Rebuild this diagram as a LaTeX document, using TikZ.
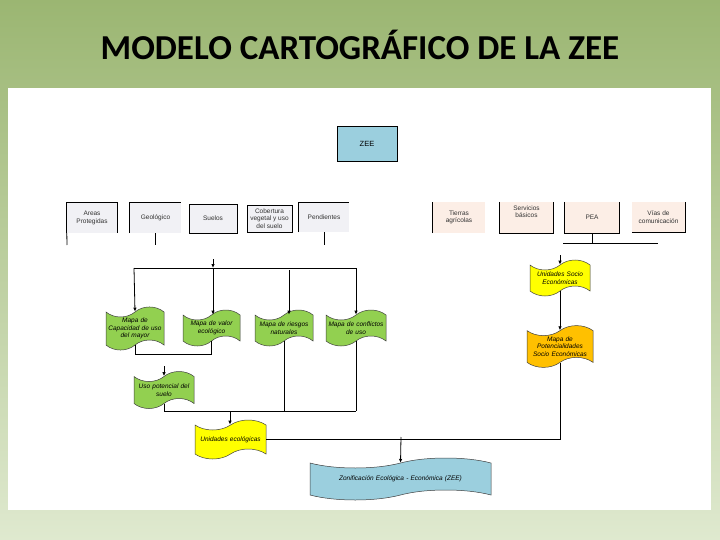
\documentclass[tikz,border=0pt]{standalone}
\usepackage{fontspec}
\setmainfont{Liberation Sans}
\newfontfamily\titlefont{Carlito}
\usetikzlibrary{shapes.symbols,arrows.meta}
\definecolor{bgtop}{HTML}{9BB672}
\definecolor{bgbot}{HTML}{DFE9CF}
\definecolor{zeeblue}{HTML}{9BCFDE}
\definecolor{mapgreen}{HTML}{92D050}
\definecolor{uyellow}{HTML}{FFFF00}
\definecolor{porange}{HTML}{FFC000}
\definecolor{boxgray}{HTML}{F1F1F5}
\definecolor{boxpeach}{HTML}{FCEEE6}
\tikzset{
  tapebox/.style={tape, draw=black!75, line width=0.5pt,
    tape bend top=in and out, tape bend bottom=in and out, tape bend height=10pt,
    font=\fontsize{6.5}{7.5}\selectfont\itshape, align=center, inner sep=1pt},
  srcbox/.style={rectangle, inner sep=1pt, align=center,
    font=\fontsize{6.5}{7.5}\selectfont, text=black!80},
  bord/.style={draw=black, line width=0.7pt},
  conn/.style={draw=black, line width=0.8pt},
  arr/.style={conn, -{Latex[length=4pt,width=3.5pt]}}
}
\begin{document}
\begin{tikzpicture}[x=1pt,y=-1pt]
\useasboundingbox (0,0) rectangle (720,540);
\shade[top color=bgtop, bottom color=bgbot] (0,0) rectangle (720,540);
\fill[white] (8,88) rectangle (711,510);
\node[anchor=base, font=\titlefont\bfseries\fontsize{35}{40}\selectfont] (title) at (360,60) {MODELO CARTOGRÁFICO DE LA ZEE};

% top
\node[draw, line width=0.8pt, fill=zeeblue, minimum width=60, minimum height=35,
      font=\fontsize{7.5}{9}\selectfont] (zee) at (367,143.5) {ZEE};

% left sources
\node[srcbox, fill=boxgray, minimum width=50, minimum height=30] (ap) at (92,218) {Areas\\Protegidas};
\draw[bord] (ap.south west) -- (ap.north west) -- (ap.north east) -- (ap.south east);
\node[srcbox, fill=boxgray, minimum width=51, minimum height=30] (geo) at (155.5,218) {Geológico};
\draw[bord] (geo.south west) -- (geo.north west) -- (geo.north east);
\node[srcbox, fill=boxgray, draw, line width=0.7pt, minimum width=48, minimum height=29] (sue) at (213,218.5) {Suelos};
\node[srcbox, fill=boxgray, draw, line width=0.7pt, minimum width=45, minimum height=27] (cob) at (269.5,218.5) {Cobertura\\vegetal y uso\\del suelo};
\node[srcbox, fill=boxgray, minimum width=50, minimum height=29] (pen) at (324,217.5) {Pendientes};
\draw[bord] (pen.south west) -- (pen.north west) -- (pen.north east);
\coordinate (apE) at (67,245);
\coordinate (geoE) at (155.5,245);
\coordinate (penE) at (324,245);
\draw[conn] (ap.south west) -- (apE);
\draw[conn] (geo.south) -- (geoE);
\draw[conn] (pen.south) -- (penE);

% right sources
\node[srcbox, fill=boxpeach, minimum width=52, minimum height=31] (tie) at (459,217.5) {Tierras\\agrícolas};
\draw[bord] (tie.south west) -- (tie.north west);
\node[srcbox, fill=boxpeach, minimum width=53, minimum height=31,
      label={[srcbox, yshift=6pt]center:Servicios\\básicos}] (ser) at (526.5,217.5) {};
\draw[bord] (ser.north west) -- (ser.south west) -- (ser.south east) -- (ser.north east);
\node[srcbox, fill=boxpeach, minimum width=54, minimum height=31] (pea) at (592,217.5) {PEA};
\draw[bord] (pea.north west) -- (pea.south west) -- (pea.south east) -- (pea.north east);
\node[srcbox, fill=boxpeach, minimum width=53, minimum height=30] (via) at (658.5,217) {Vías de\\comunicación};
\draw[bord] (via.south west) -- (via.south east) -- (via.north east);
\coordinate (peaL) at (563,243);
\coordinate (peaR) at (658,243);
\draw[conn] (pea.south) -- (pea.south |- peaL);
\draw[conn] (peaL) -- (peaR);

% green maps
\node[tapebox, fill=mapgreen, minimum width=58, minimum height=37, text width=54] (cap) at (135,328.5) {Mapa de\\Capacidad de uso\\del mayor};
\node[tapebox, fill=mapgreen, minimum width=57, minimum height=36, text width=53] (val) at (211.5,328) {Mapa de valor\\ecológico};
\node[tapebox, fill=mapgreen, minimum width=58, minimum height=36, text width=54] (rie) at (284,328) {Mapa de riesgos\\naturales};
\node[tapebox, fill=mapgreen, minimum width=60, minimum height=36, text width=58] (con) at (356,328) {Mapa de conflictos\\de uso};

\coordinate (busL) at (134,268);
\coordinate (busM) at (213,268);
\coordinate (busR) at (356,268);
\coordinate (busT) at (213,259);
\coordinate (busRie) at (289,270);
\draw[conn] (busL) -- (busR);
\draw[arr] (busT) -- (busM);
\draw[arr] (busL) -- (cap.north);
\draw[arr] (busM) -- (busM |- val.north);
\draw[arr] (busRie) -- (busRie |- rie.north);
\draw[arr] (busR) -- (con.north);

\draw[conn] (cap.south) -- ++(0,9) -| (val.south);

\node[tapebox, fill=mapgreen, minimum width=60, minimum height=37, text width=58] (uso) at (164,390) {Uso potencial del\\suelo};
\coordinate (usoT) at (164,366);
\draw[arr] (usoT) -- (uso.north);

\coordinate (b2R) at (356,411);
\coordinate (b2M) at (230,411);
\draw[conn] (uso.south) |- (b2R);
\draw[conn] (rie.south) -- (rie.south |- b2R);
\draw[conn] (con.south) -- (b2R);

\node[tapebox, fill=uyellow, minimum width=71, minimum height=39, text width=69] (uec) at (230.5,439.5) {Unidades ecológicas};
\draw[arr] (b2M) -- (b2M |- uec.north);

% right chain
\node[tapebox, fill=uyellow, minimum width=60, minimum height=36, text width=58] (usc) at (560,278) {Unidades Socio\\Económicas};
\node[tapebox, fill=porange, minimum width=66, minimum height=37, text width=64] (pot) at (560,346.5) {Mapa de\\Potencialidades\\Socio Económicas};
\coordinate (uscT) at (560,255);
\draw[arr] (uscT) -- (usc.north);
\draw[arr] (usc.south) -- (pot.north);

% final
\node[tapebox, fill=zeeblue, minimum width=181, minimum height=42, text width=170] (zeb) at (400.5,479) {Zonificación Ecológica - Económica (ZEE)};
\coordinate (b3) at (401,437);
\draw[conn] (pot.south) |- (uec.east);
\draw[arr] (b3) -- (zeb.north);
\end{tikzpicture}
\end{document}
